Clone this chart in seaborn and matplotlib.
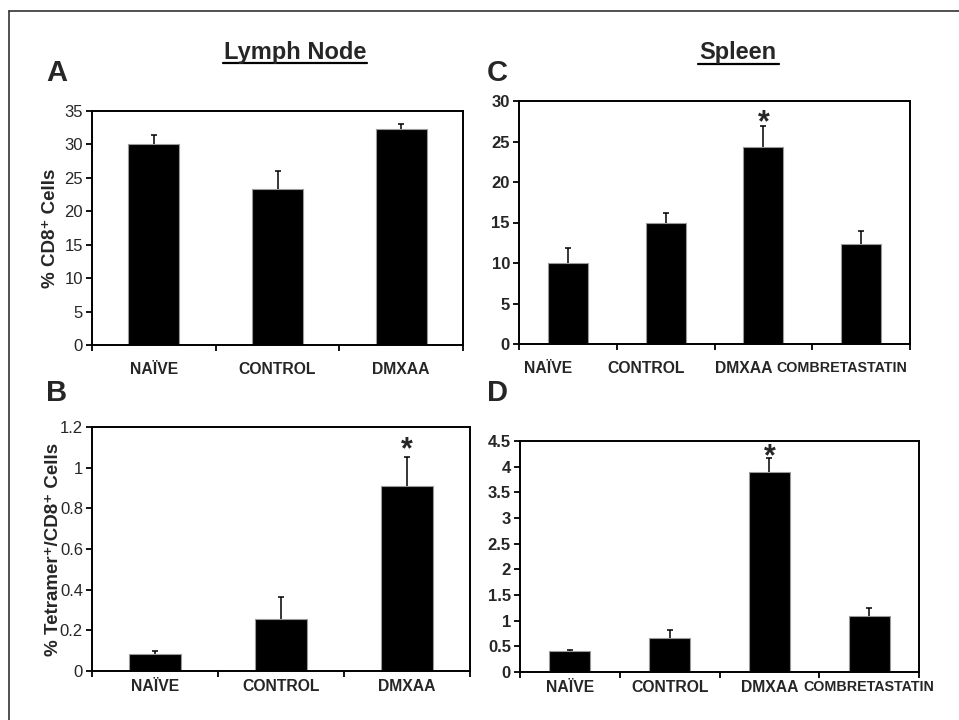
import matplotlib
matplotlib.use("Agg")
import matplotlib.pyplot as plt
from matplotlib.lines import Line2D
from matplotlib.ticker import FixedLocator, FuncFormatter
from matplotlib import font_manager
import seaborn as sns
import pandas as pd

sns.set_style("white")
plt.rcParams['font.family'] = ['Liberation Sans', 'DejaVu Sans']

# ---- data ----
lymph_groups = ['NAÏVE', 'CONTROL', 'DMXAA']
spleen_groups = ['NAÏVE', 'CONTROL', 'DMXAA', 'COMBRETASTATIN']

cd8_lymph = [30.1, 23.4, 32.3]
cd8_lymph_err = [1.35, 2.7, 0.7]

tet_lymph = [0.082, 0.254, 0.912]
tet_lymph_err = [0.018, 0.111, 0.141]

cd8_spleen = [10.0, 14.9, 24.3, 12.3]
cd8_spleen_err = [1.9, 1.3, 2.6, 1.6]

tet_spleen = [0.415, 0.66, 3.90, 1.10]
tet_spleen_err = [0.02, 0.15, 0.26, 0.15]

lymph_yticks = [[0, 5, 10, 15, 20, 25, 30, 35], [0, 0.2, 0.4, 0.6, 0.8, 1.0, 1.2]]
spleen_yticks = [[0, 5, 10, 15, 20, 25, 30], [0, 0.5, 1, 1.5, 2, 2.5, 3, 3.5, 4, 4.5]]

names = {f.name for f in font_manager.fontManager.ttflist}
if 'Liberation Sans Narrow' in names:
    long_family, long_size = ['Liberation Sans Narrow'], 11.3
else:
    long_family, long_size = ['Liberation Sans'], 10.3

W, H = 959, 720
fig = plt.figure(figsize=(W / 100, H / 100), dpi=100)


def px_axes(left, top, right, bottom):
    return fig.add_axes([left / W, 1 - bottom / H, (right - left) / W, (bottom - top) / H])


def panel(ax, groups, vals, errs, yticks, ylabel, bold_y, star_y, label_pad, ylabel_x,
          label_offset=0.0):
    df = pd.DataFrame({'group': groups, 'value': vals})
    sns.barplot(data=df, x='group', y='value', order=groups, color='black',
                width=0.41, errorbar=None, edgecolor='#9a9a9a', linewidth=0.8, ax=ax)
    n = len(groups)
    xs = list(range(n))
    _, caps, _ = ax.errorbar(xs, vals, yerr=[[0] * n, errs], fmt='none', ecolor='black',
                             elinewidth=1.1, capsize=2.5, capthick=1.1, zorder=3)
    # keep only the upper caps
    for c in caps:
        if list(c.get_ydata()) == list(vals):
            c.set_visible(False)
    ax.set_xlim(-0.5, n - 0.5)
    ax.set_ylim(yticks[0], yticks[-1])
    ax.set_yticks(yticks)
    ax.yaxis.set_major_formatter(FuncFormatter(lambda v, p: f'{v:g}'))
    ax.set_xticks([x + label_offset for x in xs])
    ax.set_xticklabels(groups, fontweight='bold', fontsize=11.3)
    for lab in ax.get_xticklabels():
        if len(lab.get_text()) > 10:
            lab.set_family(long_family)
            lab.set_fontsize(long_size)
    ax.xaxis.set_minor_locator(FixedLocator([i - 0.5 for i in range(n + 1)]))
    ax.tick_params(axis='x', which='major', length=0, pad=label_pad)
    ax.tick_params(axis='x', which='minor', length=4, width=1.3, direction='out',
                   bottom=True, color='black')
    ax.tick_params(axis='y', which='major', length=4, width=1.3, direction='out',
                   left=True, pad=2.5, labelsize=12, color='black')
    for lab in ax.get_yticklabels():
        lab.set_fontweight('bold' if bold_y else 'normal')
    for s in ax.spines.values():
        s.set_visible(True)
        s.set_linewidth(1.4)
        s.set_color('black')
    ax.set_xlabel('')
    if ylabel:
        ax.set_ylabel(ylabel, fontweight='bold', fontsize=13.5)
        ax.yaxis.set_label_coords(ylabel_x, 0.5)
    else:
        ax.set_ylabel('')
    if star_y is not None:
        ax.text(2, star_y, '*', ha='center', va='center', fontsize=22, fontweight='bold')


axA = px_axes(92, 111, 463, 345)
axC = px_axes(519, 101, 910, 344)
axB = px_axes(92, 427, 470, 671)
axD = px_axes(520, 441, 919, 672)

panel(axA, lymph_groups, cd8_lymph, cd8_lymph_err, lymph_yticks[0],
      '% CD8⁺ Cells', False, None, 12, -0.088)
panel(axB, lymph_groups, tet_lymph, tet_lymph_err, lymph_yticks[1],
      '% Tetramer⁺/CD8⁺ Cells', False, 1.085, 6, -0.08)
panel(axC, spleen_groups, cd8_spleen, cd8_spleen_err, spleen_yticks[0],
      None, True, 27.3, 12, 0, label_offset=-0.2)
panel(axD, spleen_groups, tet_spleen, tet_spleen_err, spleen_yticks[1],
      None, True, 4.18, 6, 0)

# panel letters & headers
for letter, x, y in [('A', 57, 73), ('C', 497, 73), ('B', 57, 393), ('D', 497, 393)]:
    fig.text(x / W, 1 - y / H, letter, ha='center', va='center', fontsize=21, fontweight='bold')

for title, cx, cy, x0, x1, uy in [('Lymph Node', 295, 53, 223, 367, 63),
                                   ('Spleen', 738, 53, 698, 779, 64)]:
    fig.text(cx / W, 1 - cy / H, title, ha='center', va='center', fontsize=17, fontweight='bold')
    fig.add_artist(Line2D([x0 / W, x1 / W], [1 - uy / H, 1 - uy / H], color='black', lw=1.6))

# outer frame (left and top)
fig.add_artist(Line2D([9 / W, 9 / W], [0, 1 - 11 / H], color='#333333', lw=1.2))
fig.add_artist(Line2D([9 / W, 1], [1 - 11 / H, 1 - 11 / H], color='#333333', lw=1.2))

fig.savefig('out.png', dpi=100)
